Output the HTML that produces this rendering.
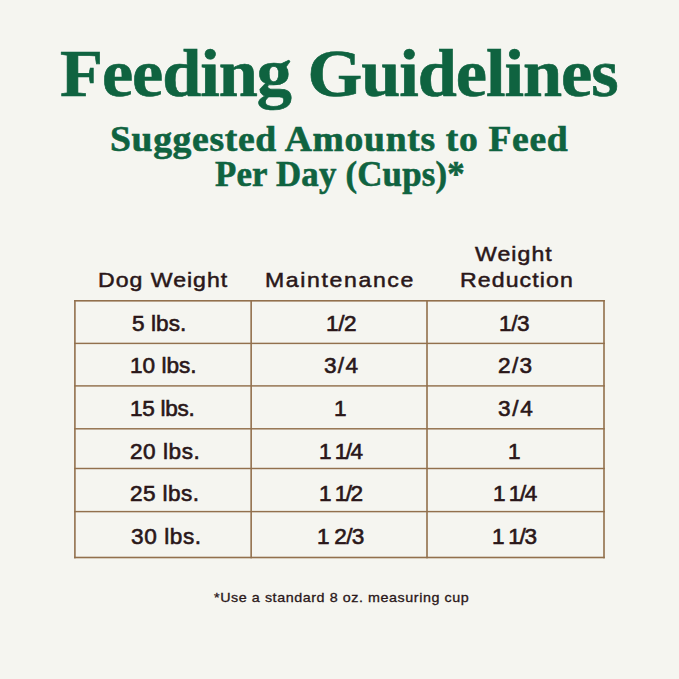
<!DOCTYPE html>
<html>
<head>
<meta charset="utf-8">
<title>Feeding Guidelines</title>
<style>
html,body{margin:0;padding:0;}
body{width:679px;height:679px;background:#f5f5f0;position:relative;overflow:hidden;}
.x{position:absolute;white-space:pre;line-height:1;margin:0;transform-origin:0 0;}
.s{font-family:"Liberation Serif",serif;font-weight:bold;color:#0f6340;}
.n{font-family:"Liberation Sans",sans-serif;color:#2a1719;}
svg{position:absolute;left:0;top:0;}
</style>
</head>
<body>
<svg width="679" height="679" viewBox="0 0 679 679">
<rect x="74.10" y="300.00" width="530.70" height="1.60" fill="#92704d"/>
<rect x="74.10" y="342.67" width="530.70" height="1.45" fill="#92704d"/>
<rect x="74.10" y="385.17" width="530.70" height="1.45" fill="#92704d"/>
<rect x="74.10" y="428.07" width="530.70" height="1.45" fill="#92704d"/>
<rect x="74.10" y="467.77" width="530.70" height="1.45" fill="#92704d"/>
<rect x="74.10" y="510.88" width="530.70" height="1.45" fill="#92704d"/>
<rect x="74.10" y="556.70" width="530.70" height="1.60" fill="#92704d"/>
<rect x="74.10" y="300.00" width="1.60" height="258.30" fill="#92704d"/>
<rect x="250.35" y="300.00" width="1.60" height="258.30" fill="#92704d"/>
<rect x="426.20" y="300.00" width="1.60" height="258.30" fill="#92704d"/>
<rect x="603.20" y="300.00" width="1.60" height="258.30" fill="#92704d"/>
</svg>
<div class="x s" style="left:60.0px;top:39.6px;font-size:67px;letter-spacing:-1.01px;transform:scaleX(1.05);-webkit-text-stroke:0.6px currentColor;">Feeding Guidelines</div>
<div class="x s" style="left:110.1px;top:121.9px;font-size:35.5px;letter-spacing:0.61px;transform:scaleX(1.06);-webkit-text-stroke:0.6px currentColor;">Suggested Amounts to Feed</div>
<div class="x s" style="left:214.8px;top:156.6px;font-size:35.5px;letter-spacing:0.21px;transform:scaleX(0.98);-webkit-text-stroke:0.6px currentColor;">Per Day (Cups)*</div>
<div class="x n" style="left:97.9px;top:268.6px;font-size:21px;letter-spacing:0.9px;transform:scaleX(1.1);-webkit-text-stroke:0.6px currentColor;-webkit-text-stroke:0.5px currentColor;">Dog Weight</div>
<div class="x n" style="left:264.7px;top:269.2px;font-size:21px;letter-spacing:1.46px;transform:scaleX(1.1);-webkit-text-stroke:0.6px currentColor;-webkit-text-stroke:0.5px currentColor;">Maintenance</div>
<div class="x n" style="left:474.7px;top:242.8px;font-size:21px;letter-spacing:0.96px;transform:scaleX(1.1);-webkit-text-stroke:0.6px currentColor;-webkit-text-stroke:0.5px currentColor;">Weight</div>
<div class="x n" style="left:460.3px;top:269.2px;font-size:21px;letter-spacing:0.99px;transform:scaleX(1.1);-webkit-text-stroke:0.6px currentColor;-webkit-text-stroke:0.5px currentColor;">Reduction</div>
<div class="x n" style="left:131.9px;top:313.5px;font-size:21.5px;letter-spacing:0.06px;transform:scaleX(1.05);-webkit-text-stroke:0.6px currentColor;">5 lbs.</div>
<div class="x n" style="left:129.9px;top:356.2px;font-size:21.5px;letter-spacing:0.0px;transform:scaleX(1.05);-webkit-text-stroke:0.6px currentColor;">10 lbs.</div>
<div class="x n" style="left:130.0px;top:398.9px;font-size:21.5px;letter-spacing:-0.27px;transform:scaleX(1.05);-webkit-text-stroke:0.6px currentColor;">15 lbs.</div>
<div class="x n" style="left:130.0px;top:441.6px;font-size:21.5px;letter-spacing:0.53px;transform:scaleX(1.05);-webkit-text-stroke:0.6px currentColor;">20 lbs.</div>
<div class="x n" style="left:130.0px;top:484.3px;font-size:21.5px;letter-spacing:0.38px;transform:scaleX(1.05);-webkit-text-stroke:0.6px currentColor;">25 lbs.</div>
<div class="x n" style="left:130.5px;top:527.2px;font-size:21.5px;letter-spacing:0.56px;transform:scaleX(1.05);-webkit-text-stroke:0.6px currentColor;">30 lbs.</div>
<div class="x n" style="left:325.5px;top:313.5px;font-size:21.5px;letter-spacing:-0.4px;transform:scaleX(1.05);-webkit-text-stroke:0.6px currentColor;">1/2</div>
<div class="x n" style="left:324.0px;top:356.2px;font-size:21.5px;letter-spacing:1.24px;transform:scaleX(1.05);-webkit-text-stroke:0.6px currentColor;">3/4</div>
<div class="x n" style="left:334.3px;top:398.9px;font-size:21.5px;letter-spacing:0.0px;transform:scaleX(1.05);-webkit-text-stroke:0.6px currentColor;">1</div>
<div class="x n" style="left:318.8px;top:441.6px;font-size:21.5px;letter-spacing:-1.44px;transform:scaleX(1.05);-webkit-text-stroke:0.6px currentColor;">1 1/4</div>
<div class="x n" style="left:318.8px;top:484.3px;font-size:21.5px;letter-spacing:-1.44px;transform:scaleX(1.05);-webkit-text-stroke:0.6px currentColor;">1 1/2</div>
<div class="x n" style="left:317.0px;top:527.2px;font-size:21.5px;letter-spacing:-0.71px;transform:scaleX(1.05);-webkit-text-stroke:0.6px currentColor;">1 2/3</div>
<div class="x n" style="left:498.8px;top:313.5px;font-size:21.5px;letter-spacing:-0.4px;transform:scaleX(1.05);-webkit-text-stroke:0.6px currentColor;">1/3</div>
<div class="x n" style="left:497.8px;top:356.2px;font-size:21.5px;letter-spacing:1.3px;transform:scaleX(1.05);-webkit-text-stroke:0.6px currentColor;">2/3</div>
<div class="x n" style="left:497.8px;top:398.9px;font-size:21.5px;letter-spacing:1.6px;transform:scaleX(1.05);-webkit-text-stroke:0.6px currentColor;">3/4</div>
<div class="x n" style="left:507.85px;top:441.6px;font-size:21.5px;letter-spacing:0.0px;transform:scaleX(1.05);-webkit-text-stroke:0.6px currentColor;">1</div>
<div class="x n" style="left:493.2px;top:484.3px;font-size:21.5px;letter-spacing:-1.41px;transform:scaleX(1.05);-webkit-text-stroke:0.6px currentColor;">1 1/4</div>
<div class="x n" style="left:492.0px;top:527.2px;font-size:21.5px;letter-spacing:-1.25px;transform:scaleX(1.05);-webkit-text-stroke:0.6px currentColor;">1 1/3</div>
<div class="x n" style="left:214.4px;top:590.5px;font-size:13px;letter-spacing:0.52px;transform:scaleX(1.1);-webkit-text-stroke:0.6px currentColor;-webkit-text-stroke:0.3px currentColor;">*Use a standard 8 oz. measuring cup</div>
</body>
</html>
